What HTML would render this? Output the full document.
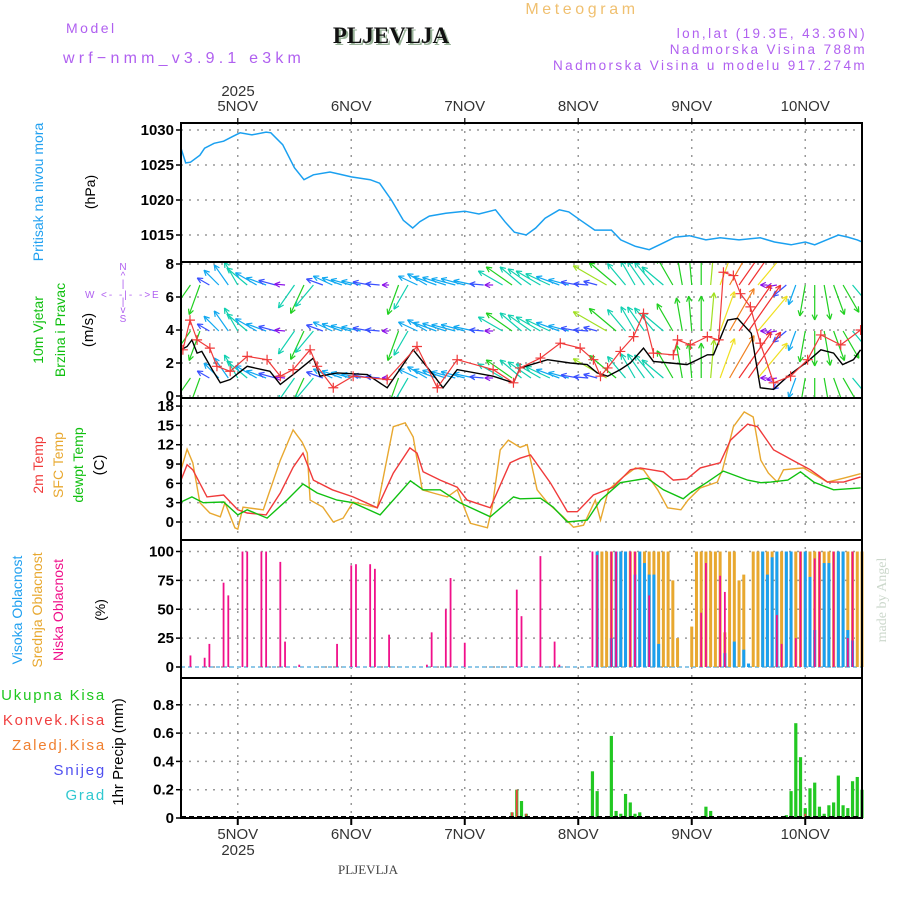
<!DOCTYPE html>
<html><head><meta charset="utf-8"><style>
body{margin:0;background:#fff;width:900px;height:900px;overflow:hidden}
svg{display:block;font-family:"Liberation Sans",sans-serif}
</style></head><body>
<svg id="chart" width="900" height="900" viewBox="0 0 900 900">
<g>
<text x="66" y="33" fill="#b060f0" font-size="14" letter-spacing="2.5">Model</text>
<text x="63" y="63" fill="#b060f0" font-size="16" letter-spacing="4.2">wrf−nmm_v3.9.1 e3km</text>
<text x="393" y="45" text-anchor="middle" fill="#99b399" font-size="23" font-weight="bold" font-family="Liberation Serif,serif">PLJEVLJA</text>
<text x="391" y="43" text-anchor="middle" fill="#111" font-size="23" font-weight="bold" font-family="Liberation Serif,serif">PLJEVLJA</text>
<text x="582" y="14" text-anchor="middle" fill="#f0c070" font-size="16" letter-spacing="3.6">Meteogram</text>
<text x="867" y="38" text-anchor="end" fill="#b060f0" font-size="13.5" letter-spacing="2.4">lon,lat (19.3E, 43.36N)</text>
<text x="867" y="54" text-anchor="end" fill="#b060f0" font-size="13.5" letter-spacing="2.4">Nadmorska Visina 788m</text>
<text x="867" y="70" text-anchor="end" fill="#b060f0" font-size="13.5" letter-spacing="2.4">Nadmorska Visina u modelu 917.274m</text>
<text x="238" y="96" text-anchor="middle" fill="#333" font-size="15">2025</text>
</g>
<g font-size="14">
<text transform="translate(43,192) rotate(-90)" text-anchor="middle" fill="#20a0f0">Pritisak na nivou mora</text>
<text transform="translate(95,192) rotate(-90)" text-anchor="middle" fill="#000">(hPa)</text>
<text transform="translate(43,330) rotate(-90)" text-anchor="middle" fill="#10c010">10m Vjetar</text>
<text transform="translate(65,330) rotate(-90)" text-anchor="middle" fill="#10c010">Brzina i Pravac</text>
<text transform="translate(93,330) rotate(-90)" text-anchor="middle" fill="#000" font-size="15">(m/s)</text>
<g fill="#b060f0" font-size="10">
<text x="85" y="298">W</text>
<text x="101" y="298" letter-spacing="2">&lt;- -|- -&gt;</text>
<text x="152" y="298">E</text>
<g text-anchor="middle">
<text x="123" y="270">N</text><text x="123" y="279">^</text><text x="123" y="287">|</text><text x="123" y="305">|</text><text x="123" y="313">v</text><text x="123" y="322">S</text>
</g>
</g>
<text transform="translate(43,465) rotate(-90)" text-anchor="middle" fill="#f03a3a">2m Temp</text>
<text transform="translate(63,465) rotate(-90)" text-anchor="middle" fill="#e8a830">SFC Temp</text>
<text transform="translate(83,465) rotate(-90)" text-anchor="middle" fill="#10c010">dewpt Temp</text>
<text transform="translate(104,465) rotate(-90)" text-anchor="middle" fill="#000" font-size="15">(C)</text>
<text transform="translate(22,610) rotate(-90)" text-anchor="middle" fill="#20a0f0">Visoka Oblacnost</text>
<text transform="translate(42,610) rotate(-90)" text-anchor="middle" fill="#e8a830">Srednja Oblacnost</text>
<text transform="translate(63,610) rotate(-90)" text-anchor="middle" fill="#f0108a">Niska Oblacnost</text>
<text transform="translate(105,610) rotate(-90)" text-anchor="middle" fill="#000">(%)</text>
<g text-anchor="end" font-size="15" letter-spacing="1.8">
<text x="106" y="700" fill="#20c820">Ukupna  Kisa</text>
<text x="106" y="725" fill="#f04040">Konvek.Kisa</text>
<text x="106" y="750" fill="#f08030">Zaledj.Kisa</text>
<text x="106" y="775" fill="#5050f0">Snijeg</text>
<text x="106" y="800" fill="#30c8d0">Grad</text>
</g>
<text transform="translate(123,752) rotate(-90)" text-anchor="middle" fill="#000" font-size="15">1hr Precip (mm)</text>
</g>
<text x="368" y="874" text-anchor="middle" fill="#444" font-size="13" font-family="Liberation Serif,serif">PLJEVLJA</text>
<text transform="translate(886,600) rotate(-90)" text-anchor="middle" fill="#ccd8cc" font-size="14" font-family="Liberation Serif,serif">made by Angel</text>
<text x="238" y="855" text-anchor="middle" fill="#333" font-size="15">2025</text>
<g id="plot"></g>
</svg>
<script>
// ---- data ----
const dayLabels = ["5NOV","6NOV","7NOV","8NOV","9NOV","10NOV"];
const dayHours = [12,36,60,84,108,132];
const presTicks = [1015,1020,1025,1030];
const windTicks = [0,2,4,6,8];
const tempTicks = [0,3,6,9,12,15,18];
const cloudTicks = [0,25,50,75,100];
const precipTicks = [0,0.2,0.4,0.6,0.8];
const precipTickLabels = ["0","0.2","0.4","0.6","0.8"];

const presH = [0,1,2,4,5,7,9,11,12.5,15,18,19,21.5,24,26,28,31.5,33.5,36,40,42,44.5,47,49,50.5,52.5,56,60,63,66.5,68.5,70.5,73,75,77,80,82,84.5,87.5,91,93,96,99,101.5,104.5,107.5,111,114,118,122.5,125.5,129,132,134,136.5,139,141,143,144];
const presV = [1027.4,1025.3,1025.4,1026.4,1027.4,1028.1,1028.4,1029.1,1029.6,1029.3,1029.7,1029.6,1027.9,1024.6,1022.9,1023.6,1024.0,1023.7,1023.3,1022.9,1022.4,1020.0,1017.1,1016.0,1016.9,1017.7,1018.1,1018.4,1018.0,1018.6,1016.9,1015.4,1015.0,1016.0,1017.4,1018.6,1018.3,1017.1,1015.7,1015.7,1014.3,1013.4,1012.9,1013.7,1014.7,1014.9,1014.3,1014.6,1014.3,1014.6,1014.0,1013.6,1014.0,1013.6,1014.3,1015.0,1014.7,1014.3,1014.0];

const windH = [0,2,4,6,8,10,12,14,16,18,20,22,24,26,28,30,32,34,36,38,40,42,44,46,48,50,52,54,56,58,60,62,64,66,68,70,72,74,76,78,80,82,84,86,88,90,92,94,96,98,100,102,104,106,108,110,112,114,116,118,120,122,124,126,128,130,132,134,136,138,140,142,144];
const windDir = [225,235,250,150,135,125,120,140,150,160,165,175,235,245,230,160,155,160,165,168,170,175,180,250,240,155,150,160,162,165,165,168,175,180,150,145,140,145,150,155,160,165,170,175,165,150,140,130,120,125,130,140,120,100,95,90,85,70,60,55,55,50,180,190,220,250,260,270,280,290,300,310,300];
const windSpd = [6,5,4.5,2,3,3.5,3.8,3.8,3.5,3,2.5,1.5,4,4.5,4,2.5,3,3,3,2.8,2.5,2,1,4.5,4,3,3.2,3.5,3.5,3.5,3.5,3,2,1.2,4,4.5,4,4,4,3.8,3.5,3,2.5,2,2,5.5,5,4,4,4.2,4.3,4,4.5,4.8,5,5,5.5,6,7,8,8,6.5,1,1.5,2.5,3,4.5,5,5,4.5,4.5,4,4];

const speedH = [0,1.3,2.3,3.4,4.4,6.6,8.3,10.4,14,18.8,21,23.7,28,29.4,33,39.4,43.6,49.1,53.3,55.4,58.4,66,70.3,71.7,77.5,82.3,85.9,88,90.2,92.9,95,97.8,99.9,103.5,107,109.2,111.3,112.6,115.6,117.7,120.6,122.5,125.3,128.3,132.5,135.3,138,139.9,142.2,143.7];
const speedV = [2.8,3.0,3.4,2.6,2.7,1.6,0.8,1.0,1.8,1.5,0.7,1.3,2.3,1.2,1.4,1.3,0.5,2.8,1.3,0.5,1.6,1.2,0.8,1.7,2.2,2.0,1.9,1.4,1.2,1.6,2.0,2.9,2.1,2.0,1.9,2.2,2.5,2.5,4.6,4.7,3.8,0.5,0.4,1.2,2.1,2.8,2.6,1.9,2.2,2.8];
const gustH = [0.4,1.9,3.4,6.1,7.6,10.4,14,18.2,21,23.7,27.3,28.8,32.2,36.4,43.6,49.9,54.2,58.4,66,70.3,71.7,76,80.2,84.4,87.2,88.7,90.2,92.9,95.7,97.8,99.9,104.1,105,107.7,111.3,113.7,114.7,116.8,118.3,120.4,122.5,125.3,128.9,132.5,135.3,139.5,143.7];
const gustV = [2.8,4.6,3.4,2.9,1.8,1.5,2.4,2.2,1.2,1.6,2.8,1.8,0.5,1.2,1.0,3.0,0.5,2.2,1.6,0.8,1.7,2.3,3.2,2.9,2.2,1.2,1.7,2.7,3.6,5.0,2.6,2.5,3.4,3.1,3.6,3.4,7.5,7.3,6.2,5.4,3.2,0.8,1.2,2.2,3.7,3.1,4.0];

const t2H = [0,1.3,2.5,5.5,9,12,14,18,21,23.7,25.8,28,32,36.4,41.5,44.9,48.4,49.9,51.2,54.8,58.4,60.5,65.4,69.6,71.7,73.9,78.1,81.7,83.8,87.2,91.4,95,97.1,102,104.1,107,109.8,114,116.2,119.8,121.9,125.3,130.3,133.1,136.7,140.1,143.7];
const t2V = [6.5,8.9,8.1,3.9,4.2,1.9,1.4,1.1,4.5,8.5,10.7,6.5,5.0,3.9,2.2,7.6,11.5,10.7,7.8,6.5,5.4,3.4,2.2,9.2,9.9,10.4,6.1,1.6,1.6,4.2,5.4,8.1,8.4,7.8,6.5,6.7,8.4,9.2,12.7,15.2,14.8,11.2,9.2,8.1,6.2,6.2,7.0];
const sfcH = [0,1.3,2.5,4,6.1,8.3,9.3,11.4,12,13.1,17.4,21,23.7,25.6,26.7,27.3,30,32.2,34.3,36.4,41.5,44.9,47.4,49.1,51,53.3,56.3,58.4,61.2,64.8,65.8,67.5,69.2,71.7,73.2,75.3,77.5,80.8,83,85.1,87.6,88.7,90.4,93.5,96.1,97.8,100.8,102.9,105.7,107.2,109.8,113.4,114.5,116.8,119.1,121,122.6,124.2,126.1,127.4,131.6,136.7,140.1,143.7];
const sfcV = [8.1,11.3,9.2,3.0,1.4,0.8,3.0,-0.9,-1.1,2.3,1.9,9.6,14.3,12.4,10.7,3.4,2.3,0,0.6,3.1,2.2,14.8,15.4,13.2,5.0,4.5,3.9,5.0,-0.2,-0.9,2.3,11.2,12.7,11.6,12,5.0,3.0,0.8,-0.8,-0.5,3.4,0.3,5.0,7.0,8.4,8.1,5.0,2.2,1.9,3.4,5.3,6.2,8.1,14.8,17.1,16.3,9.6,7.6,6.2,8.1,8.4,6.2,6.8,7.5];
const dewH = [0,2.3,4.7,9,12,14,18.2,22.4,25.8,28.8,33,36.4,42.1,48.5,51.2,54.8,59,65.4,70.3,71.7,76,78.7,81.7,85.9,88.7,92.9,98.6,102,106.2,107.7,111.3,114.7,119.8,122.6,124.7,128.3,131,133.8,138,143.7];
const dewV = [3.1,3.9,3.0,3.1,1.1,1.9,0.6,3.4,5.9,4.5,3.4,3.0,1.1,6.4,5.0,5.0,3.0,0.8,3.9,3.6,3.7,2.3,0,0.3,3.4,6.1,6.8,5.0,3.6,4.5,6.2,7.9,6.5,6.1,6.2,6.5,7.8,6.2,5.0,5.3];

const midH = [88,89,90,91,92,93,94,95,96,97,98,99,100,101,102,103,104,105,108,109,110,111,112,113,114,115,116,117,118,119,121,122,123,124,125,126,127,128,129,130,131,132,133,134,135,136,137,138,139,140,141,142,143,144];
const midV = [100,100,100,100,100,100,100,100,100,100,100,100,100,100,100,100,75,25,35,100,100,100,100,100,100,30,100,100,75,80,100,100,100,100,100,100,100,100,100,100,100,100,100,100,100,100,100,100,100,100,100,100,100,100];
const highH = [88,91,92,93,94,96,97,98,99,100,101,115,117,119,120,123,124,125,126,128,129,132,133,134,136,137,139,140,141,142];
const highV = [100,25,100,100,100,80,100,90,80,80,20,12,22,15,3,100,80,95,100,100,100,100,78,32,90,90,100,100,32,23];
const lowH = [2,5,6,9,10,13,14,17,18,21,22,25,33,36,37,40,41,44,52,53,56,57,60,71,72,76,79,80,87,88,91,92,95,96,99,110,111,114,115,126,127,130,131,134,135,138,141,142];
const lowV = [10,8,20,73,62,100,100,100,100,91,22,2,20,88,89,89,85,28,2,30,50,77,21,67,44,96,22,2,100,97,100,100,100,100,62,47,90,79,65,45,20,25,100,94,100,100,25,100];

const precipH = [70,71,72,73,87,88,91,92,93,94,95,96,97,110,111,112,128,129,130,131,132,133,134,135,136,137,138,139,140,141,142,143,144];
const precipV = [0.04,0.2,0.12,0.03,0.33,0.19,0.58,0.05,0.03,0.17,0.11,0.03,0.04,0.01,0.08,0.05,0.02,0.19,0.67,0.43,0.07,0.21,0.25,0.08,0.03,0.09,0.11,0.3,0.09,0.07,0.26,0.29,0.2];
const convH = [70,71,73,132];
const convV = [0.04,0.2,0.03,0.03];

// ---- axes ----
const X0=181, X1=862, HMAX=144;
const xs = h => X0 + h*(X1-X0)/HMAX;
const yP = v => 130 + (1030-v)*7;
const yW = v => 396 - v*16.5;
const yT = v => 522 - v*6.44;
const yC = v => 667 - v*1.155;
const yR = v => 818 - v*141.5;
const panels = [[123,262],[262,398],[398,540],[540,678],[678,818]];

const NS="http://www.w3.org/2000/svg";
const plot=document.getElementById('plot');
function mk(tag,attrs,parent){const e=document.createElementNS(NS,tag);for(const k in attrs)e.setAttribute(k,attrs[k]);(parent||plot).appendChild(e);return e;}
function grp(name){const g=mk('g',{});


return g;}

const defs=mk('defs',{});
panels.forEach((p,i)=>{const c=mk('clipPath',{id:'clip'+i},defs);mk('rect',{x:X0,y:p[0],width:X1-X0,height:p[1]-p[0]},c);});

const grid=grp('grid-lines');
dayHours.forEach(h=>{const l=mk('line',{x1:xs(h),x2:xs(h),y1:123,y2:818,stroke:'#999','stroke-width':1.5,'stroke-dasharray':'2 6'},grid);

});
function hgrid(ticks,fy,labels){ticks.forEach((t,i)=>{
 const y=fy(t);
 const l=mk('line',{x1:X0,x2:X1,y1:y,y2:y,stroke:'#999','stroke-width':1.5,'stroke-dasharray':'2 6'},grid);
 
 
 const tk=mk('line',{x1:X0-5,x2:X0,y1:y,y2:y,stroke:'#000','stroke-width':1.5},grid);
 
 
 const tx=mk('text',{x:X0-7,y:y+5,'text-anchor':'end','font-size':15,'font-weight':'bold',fill:'#000'},grid);
 
 
 tx.textContent=labels?labels[i]:String(t);});}
hgrid(presTicks,yP);hgrid(windTicks,yW);hgrid(tempTicks,yT);hgrid(cloudTicks,yC);hgrid(precipTicks,yR,precipTickLabels);

dayLabels.forEach((d,i)=>{const x=xs(dayHours[i]);
 const t=mk('text',{x:x,y:111,'text-anchor':'middle','font-size':15,fill:'#333'});
 
 
 t.textContent=d;
 const b=mk('text',{x:x,y:839,'text-anchor':'middle','font-size':15,fill:'#333'});
 
 
 b.textContent=d;
 mk('line',{x1:x,x2:x,y1:118,y2:123,stroke:'#333','stroke-width':1.5});
 mk('line',{x1:x,x2:x,y1:818,y2:825,stroke:'#000','stroke-width':2});});

function line(H,V,fy,color,name,ci,w){let d='';H.forEach((h,i)=>{d+=(i?'L':'M')+xs(h).toFixed(1)+','+fy(V[i]).toFixed(1);});
 const p=mk('path',{d:d,fill:'none',stroke:color,'stroke-width':w||1.4,'clip-path':'url(#clip'+ci+')'});
 
 
 return p;}

line(presH,presV,yP,'#1aa0f0','pressure-line',0,1.5);

const palette=['#8a10e8','#3a50ff','#10a8f0','#10d0b0','#20d020','#a0e020','#f0e020','#f08020','#f03030','#f010a0'];
function spdColor(s){const lim=[1.5,2.5,3.5,4.3,5.2,5.8,6.5,7.5,8.5];for(let i=0;i<lim.length;i++)if(s<=lim[i])return palette[i];return palette[9];}
const wg=grp('wind-arrows');wg.setAttribute('clip-path','url(#clip1)');
[285,331,378].forEach(by=>{windH.forEach((h,i)=>{
 const a=windDir[i]*Math.PI/180,L=windSpd[i]*7,x=xs(h),ex=x+L*Math.cos(a),ey=by-L*Math.sin(a),c=spdColor(windSpd[i]);
 const g=mk('g',{stroke:c,'stroke-width':1.2,fill:'none'},wg);
 
 
 mk('line',{x1:x,y1:by,x2:ex,y2:ey},g);
 [0.45,-0.45].forEach(o=>{mk('line',{x1:ex,y1:ey,x2:ex-6*Math.cos(a+o),y2:ey+6*Math.sin(a+o)},g);});
});});
line(speedH,speedV,yW,'#000','wind-speed-line',1,1.4);
line(gustH,gustV,yW,'#f03a3a','wind-gust-line',1,1.2);
const gm=grp('gust-markers');gm.setAttribute('clip-path','url(#clip1)');
gustH.forEach((h,i)=>{const x=xs(h),y=yW(gustV[i]);
 const m=mk('path',{d:`M${x-5},${y}H${x+5}M${x},${y-5}V${y+5}`,stroke:'#f03a3a','stroke-width':1.2},gm);
 
 });

line(sfcH,sfcV,yT,'#e8a830','sfc-temp-line',2,1.4);
line(t2H,t2V,yT,'#f03a3a','temp-2m-line',2,1.4);
line(dewH,dewV,yT,'#10c010','dewpoint-line',2,1.4);

mk('line',{x1:X0,x2:X1,y1:667,y2:667,stroke:'#8fc8e8','stroke-width':2,'stroke-dasharray':'4 3'});
function bars(H,V,fy,color,w,name,base){H.forEach((h,i)=>{const x=xs(h),y=fy(V[i]);
 const r=mk('rect',{x:x-w/2,y:y,width:w,height:Math.max(0,base-y),fill:color});
 
 });}
bars(midH,midV,yC,'#e8a830',3,'mid-cloud-bar',667);
bars(highH,highV,yC,'#1aa0f0',3,'high-cloud-bar',667);
bars(lowH,lowV,yC,'#f0108a',1.8,'low-cloud-bar',667);

bars(precipH,precipV,yR,'#22c822',3.2,'precip-bar',818);
bars(convH,convV,yR,'#f04040',1.8,'convective-bar',818);
mk('line',{x1:X0,x2:X1,y1:817,y2:817,stroke:'#000','stroke-width':2,'stroke-dasharray':'5 3'});

const fr=grp('panel-frames');
panels.forEach(p=>{const r=mk('rect',{x:X0,y:p[0],width:X1-X0,height:p[1]-p[0],fill:'none',stroke:'#000','stroke-width':2},fr);
 
 });
</script>
</body></html>
